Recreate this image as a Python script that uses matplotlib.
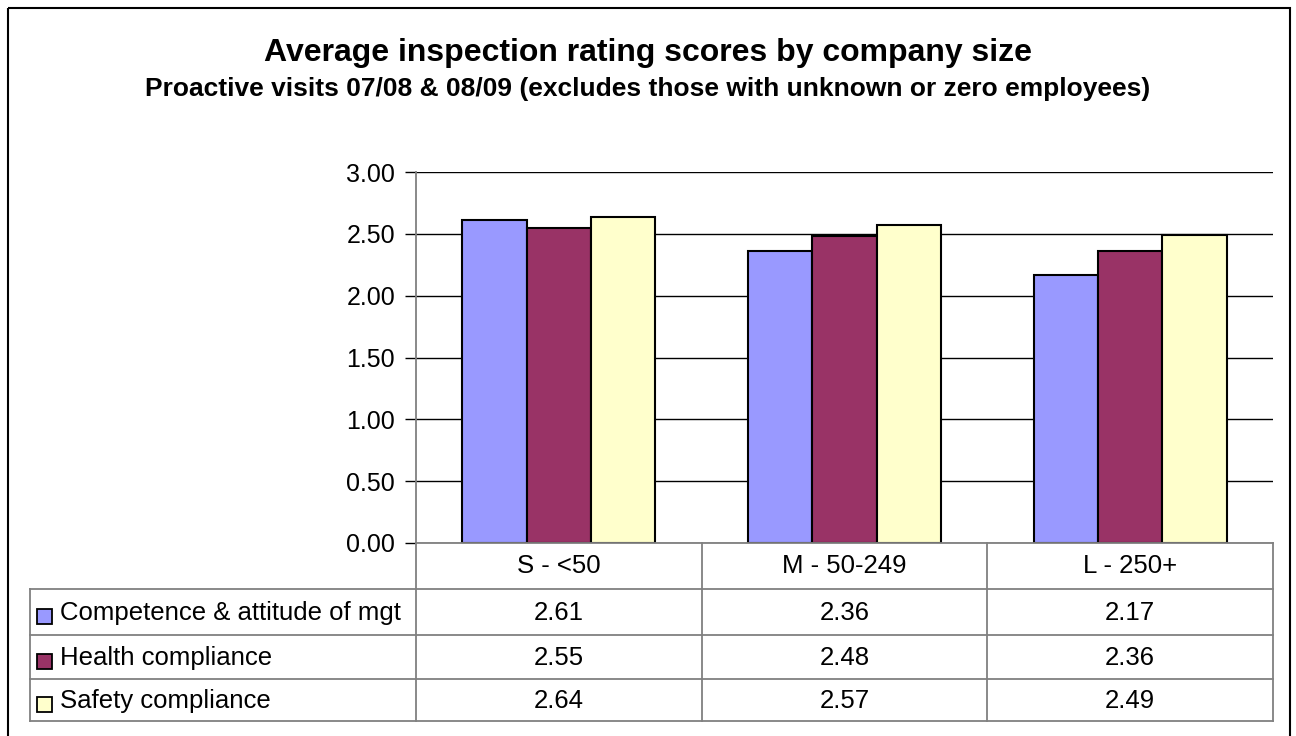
import matplotlib
matplotlib.use("Agg")
import matplotlib.pyplot as plt
import numpy as np
from matplotlib.patches import Rectangle

plt.rcParams['font.family'] = ['Liberation Sans', 'DejaVu Sans']

categories = ["S - <50", "M - 50-249", "L - 250+"]
series_names = ["Competence & attitude of mgt", "Health compliance", "Safety compliance"]
competence = [2.61, 2.36, 2.17]
health = [2.55, 2.48, 2.36]
safety = [2.64, 2.57, 2.49]
series_values = [competence, health, safety]
colors = ["#9999FF", "#993366", "#FFFFCC"]
yticks = [0.0, 0.5, 1.0, 1.5, 2.0, 2.5, 3.0]

W, H = 1296, 736
fig = plt.figure(figsize=(W / 100, H / 100), dpi=100)

def fx(px):
    return px / W

def fy(py):
    return 1 - py / H

# outer chart border
border = fig.add_axes([0, 0, 1, 1])
border.set_xlim(0, W)
border.set_ylim(H, 0)
border.axis('off')
border.add_patch(Rectangle((8, 7.5), 1282, 740, fill=False, edgecolor='black', lw=1.5))

# plot area
L, R, T, B = 416, 1273, 172, 543
ax = fig.add_axes([fx(L), fy(B), fx(R) - fx(L), fy(T) - fy(B)])
n = len(categories)
x = np.arange(n)
bw = 0.225
for i, (vals, c) in enumerate(zip(series_values, colors)):
    ax.bar(x + (i - 1) * bw, vals, width=bw, color=c, edgecolor='black', linewidth=1.5, zorder=3)
ax.set_xlim(-0.5, n - 0.5)
ax.set_ylim(0, 3.0)
ax.set_yticks(yticks)
ax.set_yticklabels([f"{v:.2f}" for v in yticks], fontsize=18)
ax.tick_params(axis='y', direction='out', length=8, width=1, pad=7, colors='black')
ax.set_xticks([])
ax.yaxis.grid(True, color='black', lw=1)
ax.set_axisbelow(True)
for s in ['top', 'right', 'bottom']:
    ax.spines[s].set_visible(False)
ax.spines['left'].set_color('#808080')
ax.spines['left'].set_linewidth(1.3)

# titles
fig.text(0.5, fy(61), "Average inspection rating scores by company size", ha='center', va='baseline',
         fontsize=23, fontweight='bold')
fig.text(0.5, fy(96), "Proactive visits 07/08 & 08/09 (excludes those with unknown or zero employees)",
         ha='center', va='baseline', fontsize=19, fontweight='bold')

# data table
tab = fig.add_axes([0, 0, 1, 1])
tab.set_xlim(0, W)
tab.set_ylim(H, 0)
tab.axis('off')
gc = '#808080'
lw = 1.3
tl = 30
rows_y = [543, 589, 635, 679, 721]
col_x = [L + (R - L) * k / n for k in range(n + 1)]
tab.plot([L, R], [543, 543], color=gc, lw=lw)
for yy in rows_y[1:]:
    tab.plot([tl, R], [yy, yy], color=gc, lw=lw)
tab.plot([tl, tl], [rows_y[1], rows_y[-1]], color=gc, lw=lw)
for xx in col_x:
    tab.plot([xx, xx], [543, rows_y[-1]], color=gc, lw=lw)

fs = 18.5
for j, cat in enumerate(categories):
    cx = (col_x[j] + col_x[j + 1]) / 2
    mid = (rows_y[0] + rows_y[1]) / 2
    tab.text(cx, mid + 7, cat, ha='center', va='baseline', fontsize=fs)
for i, (name, vals, c) in enumerate(zip(series_names, series_values, colors)):
    mid = (rows_y[i + 1] + rows_y[i + 2]) / 2
    tab.add_patch(Rectangle((37, mid - 3.5), 15, 15, facecolor=c, edgecolor='black', lw=1.3))
    tab.text(60, mid + 8, name, ha='left', va='baseline', fontsize=fs)
    for j, v in enumerate(vals):
        cx = (col_x[j] + col_x[j + 1]) / 2
        tab.text(cx, mid + 8, f"{v:.2f}", ha='center', va='baseline', fontsize=fs)

fig.savefig("out.png", dpi=100)
